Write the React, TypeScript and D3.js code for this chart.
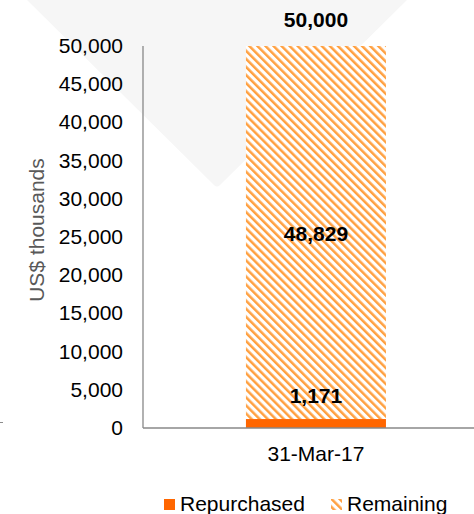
import React from "react";
import * as d3 from "d3";

const categories = ["31-Mar-17"];
const repurchased = [1171];
const remaining = [48829];
const totals = [50000];
const yTicks = [0, 5000, 10000, 15000, 20000, 25000, 30000, 35000, 40000, 45000, 50000];
const legendLabels = ["Repurchased", "Remaining"];

export default function App() {
  const W = 474, H = 514;
  const left = 143, right = 474, top = 46, bottom = 428;
  const y = d3.scaleLinear().domain([0, 50000]).range([bottom, top]);
  const x = d3.scaleBand().domain(categories).range([left, right]).paddingInner(0).paddingOuter(0.682).align(0.539);
  const fmt = d3.format(",");
  const font = "'Liberation Sans', Arial, sans-serif";
  const fs = 21;
  const bw = x.bandwidth();
  const watermark = "M27,0 L407,0 L220,185 Q217,188 214,185 Z";
  return (
    <div style={{ position: "absolute", left: 0, top: 0 }}>
      <svg width={W} height={H} style={{ display: "block" }} fontFamily={font}>
        <defs>
          <pattern id="hatch" patternUnits="userSpaceOnUse" width={5.7} height={5.7} patternTransform="rotate(-45)">
            <rect width={5.7} height={5.7} fill="#ffffff" />
            <rect x={0} y={0} width={2.5} height={5.7} fill="#ffa040" />
          </pattern>
        </defs>
        <rect width={W} height={H} fill="#ffffff" />
        <path d={watermark} fill="#f6f6f6" />
        <line x1={0} x2={3} y1={422.5} y2={422.5} stroke="#8c8c8c" strokeWidth={1} />
        {categories.map((c, i) => {
          const bx = x(c)!;
          return (
            <g key={c}>
              <rect x={bx} y={y(repurchased[i] + remaining[i])} width={bw} height={y(repurchased[i]) - y(repurchased[i] + remaining[i])} fill="url(#hatch)" />
              <rect x={bx} y={y(repurchased[i])} width={bw} height={y(0) - y(repurchased[i])} fill="#ff6600" />
              <text x={bx + bw / 2} y={y(totals[i]) - 19} textAnchor="middle" fontSize={fs} fontWeight="bold" fill="#000">{fmt(totals[i])}</text>
              <text x={bx + bw / 2} y={y(repurchased[i] + remaining[i] / 2) + 8.5} textAnchor="middle" fontSize={fs} fontWeight="bold" fill="#000">{fmt(remaining[i])}</text>
              <text x={bx + bw / 2} y={y(repurchased[i]) - 16} textAnchor="middle" fontSize={fs} fontWeight="bold" fill="#000">{fmt(repurchased[i])}</text>
              <text x={bx + bw / 2} y={bottom + 33} textAnchor="middle" fontSize={fs} fill="#000">{c}</text>
            </g>
          );
        })}
        <line x1={left} x2={left} y1={top} y2={bottom} stroke="#888888" strokeWidth={1.3} />
        <line x1={left} x2={right} y1={bottom} y2={bottom} stroke="#888888" strokeWidth={1.3} />
        {yTicks.map((t) => (
          <text key={t} x={123} y={y(t) + 7} textAnchor="end" fontSize={fs} fill="#000">{fmt(t)}</text>
        ))}
        <text transform={`translate(44,${(top + bottom) / 2 - 7}) rotate(-90)`} textAnchor="middle" fontSize={fs} fill="#595959">US$ thousands</text>
        <rect x={164} y={499} width={11} height={11} fill="#ff6600" />
        <text x={180} y={511} fontSize={fs} fill="#000">{legendLabels[0]}</text>
        <rect x={331} y={499} width={11} height={11} fill="url(#hatch)" />
        <text x={347} y={511} fontSize={fs} fill="#000">{legendLabels[1]}</text>
      </svg>
    </div>
  );
}
